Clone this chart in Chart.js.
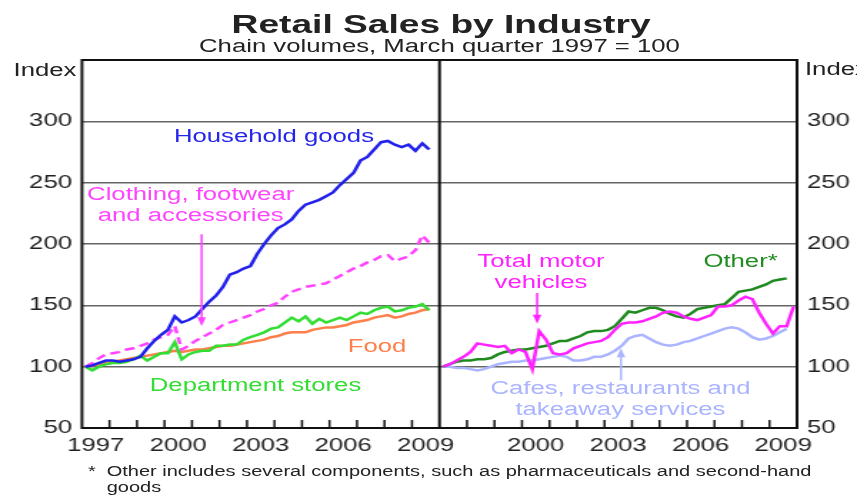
<!DOCTYPE html>
<html>
<head>
<meta charset="utf-8">
<title>Retail Sales by Industry</title>
<script src="https://cdn.jsdelivr.net/npm/chart.js@4.4.0/dist/chart.umd.min.js"></script>
<style>
  html, body { margin: 0; padding: 0; background: #fff; overflow: hidden; }
  /* the original picture is stretched sideways, so draw on a narrower page and widen it */
  #wrap { position: relative; width: 600px; height: 495px; transform: scaleX(1.4283); transform-origin: 0 0;
          font-family: 'Liberation Sans', Arial, sans-serif; color: #222; }
  #chart { position: absolute; left: 0; top: 0; }
  .t { position: absolute; white-space: nowrap; transform: translate(-50%, -50%); text-align: center;
       font-size: 18px; line-height: 21px; }
</style>
</head>
<body>
<div id="wrap">
  <canvas id="chart" width="600" height="495"></canvas>
  <div class="t" style="left:308.8px;top:24px;font-size:26px;font-weight:bold;">Retail Sales by Industry</div>
  <div class="t" style="left:307.7px;top:46px;">Chain volumes, March quarter 1997 = 100</div>
  <div class="t" style="left:31.5px;top:70px;">Index</div>
  <div style="position:absolute;left:563.6px;top:59px;font-size:18px;line-height:21px;">Index</div>

  <div class="t" style="left:191.8px;top:136px;color:#2424ea;">Household goods</div>
  <div class="t" style="left:133.5px;top:204.5px;color:#ff44ff;">Clothing, footwear<br>and accessories</div>
  <div class="t" style="left:264px;top:345.5px;color:#ff7f4a;">Food</div>
  <div class="t" style="left:178.9px;top:384.5px;color:#33dd33;">Department stores</div>
  <div class="t" style="left:378.8px;top:272px;color:#ff22ff;">Total motor<br>vehicles</div>
  <div class="t" style="left:518.5px;top:261px;color:#228b22;">Other*</div>
  <div class="t" style="left:434.4px;top:399px;color:#aab4ff;">Cafes, restaurants and<br>takeaway services</div>

  <div style="position:absolute;left:61.6px;top:463px;font-size:14px;line-height:16px;">*</div>
  <div style="position:absolute;left:74.7px;top:463px;font-size:14px;line-height:16px;white-space:nowrap;">Other includes several components, such as pharmaceuticals and second-hand<br>goods</div>
</div>
<script>
// quarters, plotted mid-quarter, March quarter 1997 onwards
const quarters = Array.from({length: 52}, (_, i) => 1997.125 + i * 0.25);
const leftYearLabels = [1997, 2000, 2003, 2006, 2009];
const rightYearLabels = [2000, 2003, 2006, 2009];

// left panel
const householdGoods = [100,101,103,105, 105,104,105,106, 108,115,121,126, 130,141,136,138,
  141,147,153,158, 165,175,177,180, 182,192,200,207, 213,216,220,227, 232,234,236,239,
  242,248,253,258, 268,271,277,283, 284,281,279,281, 276,282,277];
const clothing = [100,103,107,110, 111,112,114,115, 117,119,122,124, 126,133,114,117,
  121,124,127,130, 134,136,138,140, 142,145,147,150, 152,157,161,163, 165,166,167,168,
  171,174,177,180, 182,185,187,190, 191,186,188,190, 195,207,201];
const departmentStores = [100,97,100,102, 103,103,104,106, 109,105,108,111, 111,120,106,110,
  112,113,113,117, 117,118,118,122, 124,126,128,131, 132,136,140,137, 141,135,139,136,
  138,140,138,141, 144,143,146,148, 149,145,146,148, 149,151,146];
const food = [100,101,102,103, 104,105,106,107, 108,109,110,111, 112,113,112,113,
  114,114,115,116, 117,117,118,119, 120,121,122,124, 125,127,128,128, 128,130,131,132,
  132,133,134,136, 137,138,140,141, 142,140,141,143, 144,146,147];

// right panel
const motorVehicles = [100,102,105,108, 112,119,118,117, 116,117,111,114, 112,98,129,122,
  111,110,111,115, 117,119,120,121, 124,130,135,136, 136,137,139,141, 144,145,144,141,
  139,138,140,142, 149,149,150,154, 157,155,144,135, 127,133,133,149];
const other = [100,102,104,105, 105,106,106,107, 110,112,113,114, 114,115,116,117,
  119,121,121,123, 125,128,129,129, 130,133,139,145, 144,146,148,148, 146,143,141,140,
  143,147,148,149, 150,151,156,161, 162,163,165,167, 170,171,172];
const cafes = [100,100,99,99, 98,97,98,100, 102,103,104,104, 105,105,106,107,
  108,109,108,105, 105,106,108,108, 110,113,117,123, 125,126,123,120, 118,117,118,120,
  121,123,125,127, 129,131,132,131, 128,124,122,123, 125,128,131];

// annotation arrows: panel axis, year, from index value, to index value
const arrows = [
  {axis: 'xL', x: 2001.35, from: 208, to: 133, color: '#ff44ff'},
  {axis: 'xR', x: 2000.55, from: 160, to: 135, color: '#ff22ff'},
  {axis: 'xR', x: 2003.6, from: 89, to: 115, color: '#aab4ff'}
];

const toPoints = vals => vals.map((v, i) => ({x: quarters[i], y: v}));

const line = (label, vals, axis, color, extra) => Object.assign({
  label: label,
  data: toPoints(vals),
  xAxisID: axis,
  yAxisID: 'y',
  borderColor: color,
  borderWidth: 2.5,
  pointRadius: 0,
  fill: false,
  tension: 0
}, extra || {});

const panelFrame = {
  id: 'panelFrame',
  afterDatasetsDraw(chart) {
    const {ctx, chartArea: a, scales} = chart;
    ctx.save();
    arrows.forEach(ar => {
      const px = scales[ar.axis].getPixelForValue(ar.x);
      const y0 = scales.y.getPixelForValue(ar.from);
      const y1 = scales.y.getPixelForValue(ar.to);
      const dir = Math.sign(y1 - y0);
      ctx.strokeStyle = ar.color;
      ctx.fillStyle = ar.color;
      ctx.lineWidth = 1.5;
      ctx.beginPath();
      ctx.moveTo(px, y0);
      ctx.lineTo(px, y1 - dir * 6);
      ctx.stroke();
      ctx.beginPath();
      ctx.moveTo(px, y1);
      ctx.lineTo(px - 3, y1 - dir * 9);
      ctx.lineTo(px + 3, y1 - dir * 9);
      ctx.closePath();
      ctx.fill();
    });
    ctx.strokeStyle = '#111';
    ctx.lineWidth = 2;
    ctx.strokeRect(a.left, a.top, a.right - a.left, a.bottom - a.top);
    const mid = scales.xR.left;
    ctx.beginPath();
    ctx.moveTo(mid, a.top);
    ctx.lineTo(mid, a.bottom);
    ctx.stroke();
    // year ticks inside the panels
    ctx.lineWidth = 1.5;
    ['xL', 'xR'].forEach(id => {
      const s = scales[id];
      for (let yr = 1998; yr <= 2009; yr++) {
        const px = s.getPixelForValue(yr);
        ctx.beginPath();
        ctx.moveTo(px, a.bottom);
        ctx.lineTo(px, a.bottom - 8);
        ctx.stroke();
      }
    });
    ctx.restore();
  }
};

Chart.defaults.font.family = "'Liberation Sans', Arial, sans-serif";
Chart.defaults.font.size = 18;
Chart.defaults.color = '#222';

const yearAxis = (labels) => ({
  type: 'linear',
  position: 'bottom',
  stack: 'panels',
  min: 1997,
  max: 2010,
  grid: {display: false, drawTicks: false},
  border: {display: false},
  afterBuildTicks: s => { s.ticks = labels.map(y => ({value: y + 0.5})); },
  afterFit: s => { s.height = 67; },
  ticks: {autoSkip: false, maxRotation: 0, padding: 7, callback: v => String(Math.floor(v))}
});

const ctx = document.getElementById('chart').getContext('2d');

const retailChart = new Chart(ctx, {
  type: 'line',
  data: {
    datasets: [
      line('Household goods', householdGoods, 'xL', '#2020ea'),
      line('Clothing, footwear and accessories', clothing, 'xL', '#ff44ff', {borderDash: [7, 4]}),
      line('Department stores', departmentStores, 'xL', '#33dd33'),
      line('Food', food, 'xL', '#ff7f4a'),
      line('Total motor vehicles', motorVehicles, 'xR', '#ff22ff'),
      line('Other*', other, 'xR', '#1e8a1e'),
      line('Cafes, restaurants and takeaway services', cafes, 'xR', '#aab4ff')
    ]
  },
  options: {
    responsive: false,
    animation: false,
    layout: {padding: {top: 60, left: 0, right: 0, bottom: 0}},
    scales: {
      xL: yearAxis(leftYearLabels),
      xR: yearAxis(rightYearLabels),
      y: {
        position: 'left',
        min: 50,
        max: 350,
        afterFit: s => { s.width = 57.4; },
        ticks: {stepSize: 50, padding: 7, callback: v => v === 350 ? '' : v},
        grid: {
          drawTicks: false,
          lineWidth: 1.5,
          color: c => (c.tick && (c.tick.value === 50 || c.tick.value === 350)) ? 'rgba(0,0,0,0)' : '#666'
        },
        border: {display: false}
      },
      yR: {
        position: 'right',
        min: 50,
        max: 350,
        afterFit: s => { s.width = 42; },
        ticks: {stepSize: 50, padding: 7, callback: v => v === 350 ? '' : v},
        grid: {drawOnChartArea: false, drawTicks: false},
        border: {display: false}
      }
    },
    plugins: {
      legend: {display: false},
      tooltip: {enabled: false}
    }
  },
  plugins: [panelFrame]
});
</script>
</body>
</html>
